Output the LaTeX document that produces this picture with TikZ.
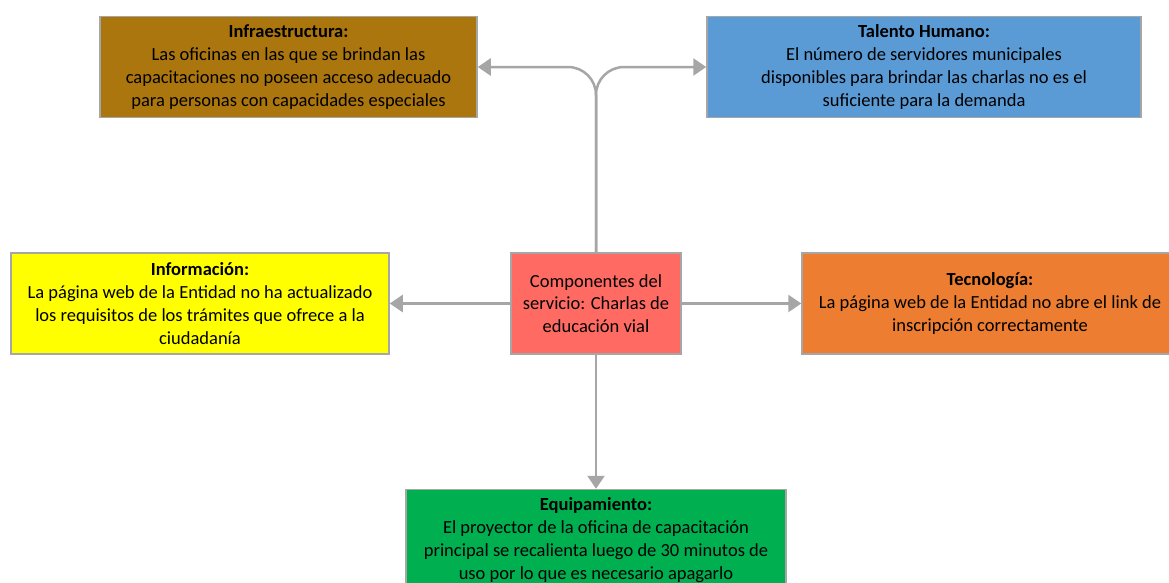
\documentclass[tikz,border=0pt]{standalone}
\usepackage{fontspec}
\setmainfont{Carlito}
\usetikzlibrary{arrows.meta}
\definecolor{infracol}{HTML}{AB760E}
\definecolor{talentcol}{HTML}{5B9BD5}
\definecolor{infocol}{HTML}{FFFF00}
\definecolor{centercol}{HTML}{FF6B63}
\definecolor{tecnocol}{HTML}{ED7D31}
\definecolor{equipcol}{HTML}{00B050}
\definecolor{linegray}{HTML}{A6A6A6}

\begin{document}
\begin{tikzpicture}[x=1pt,y=-1pt,
    box/.style={draw=linegray,line width=1.5pt,align=center,inner sep=0pt,
      minimum height=101pt,font=\fontsize{18.5}{22.8}\selectfont},
    link/.style={draw=linegray,line width=2.5pt,
      -{Triangle[length=13pt,width=17pt]}}]
            \clip (0,0) rectangle (1169,582);
            \fill[white] (0,0) rectangle (1169,582);
            \draw (288.5,67) node[box,fill=infracol,minimum width=377pt] (infra)
            {\textbf{Infraestructura:}\\Las oficinas en las que se brindan las\\
             capacitaciones no poseen acceso adecuado\\para personas con capacidades especiales};
            \draw (924,67) node[box,fill=talentcol,minimum width=434pt] (talento)
            {\textbf{Talento Humano:}\\El número de servidores municipales\\
             disponibles para brindar las charlas no es el\\suficiente para la demanda};
            \draw (200,303.5) node[box,fill=infocol,minimum width=378pt] (info)
            {\textbf{Información:}\\La página web de la Entidad no ha actualizado\\
             los requisitos de los trámites que ofrece a la\\ciudadanía};
            \draw (596,303.5) node[box,fill=centercol,minimum width=170pt] (center)
            {Componentes del\\servicio: Charlas de\\educación vial};
            \draw (990,303.5) node[box,fill=tecnocol,minimum width=376pt] (tecno)
            {\textbf{Tecnología:}\\La página web de la Entidad no abre el link de\\
             inscripción correctamente};
            \draw (596,540) node[box,fill=equipcol,minimum width=380pt] (equip)
            {\textbf{Equipamiento:}\\El proyector de la oficina de capacitación\\
             principal se recalienta luego de 30 minutos de\\uso por lo que es necesario apagarlo};
            \draw[link,rounded corners=28pt] (center.north) |- (infra.east);
            \draw[link,rounded corners=28pt] (center.north) |- (talento.west);
            \draw[link] (center.west) -- (info.east);
            \draw[link] (center.east) -- (tecno.west);
            \draw[link] (center.south) -- (equip.north);
\end{tikzpicture}
\end{document}
